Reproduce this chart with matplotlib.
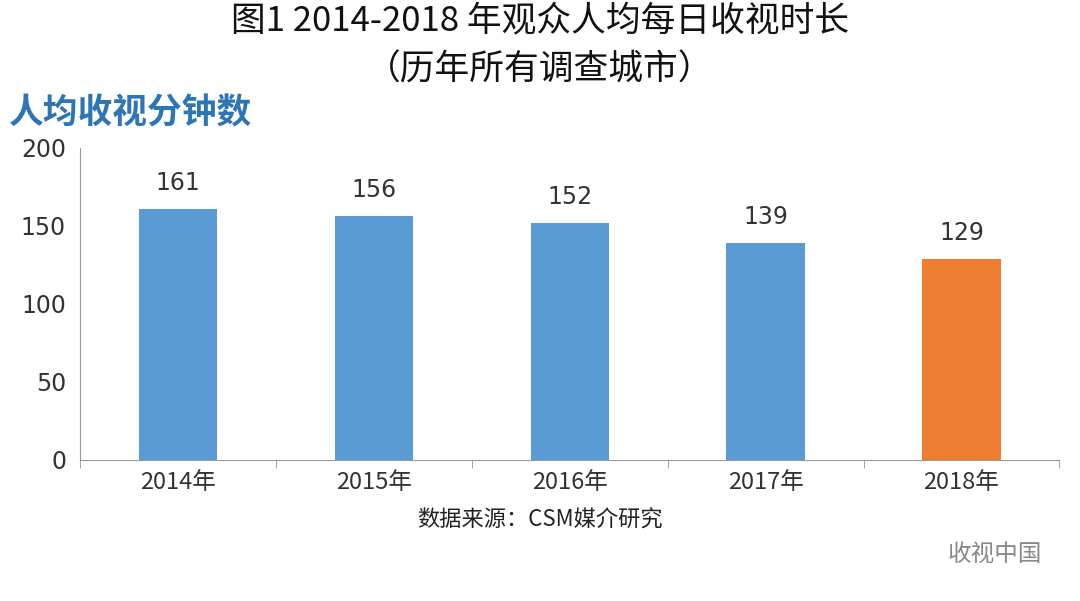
import matplotlib
matplotlib.use("Agg")
import matplotlib.pyplot as plt

plt.rcParams['font.family'] = ['Noto Sans CJK SC', 'DejaVu Sans']

years = ["2014年", "2015年", "2016年", "2017年", "2018年"]
minutes = [161, 156, 152, 139, 129]
colors = ["#5B9BD5", "#5B9BD5", "#5B9BD5", "#5B9BD5", "#ED7D31"]

fig = plt.figure(figsize=(10.8, 6.01), dpi=100)
ax = fig.add_axes([0.074, 0.235, 0.907, 0.519])
x = range(len(years))
ax.bar(x, minutes, width=0.4, color=colors)
for i, v in zip(x, minutes):
    ax.text(i, v + 9, str(v), ha='center', va='bottom', fontsize=17, color='#333333', family='DejaVu Sans')
ax.set_xlim(-0.5, len(years) - 0.5)
ax.set_ylim(0, 200)
ax.set_yticks([0, 50, 100, 150, 200])
ax.set_xticks(list(x))
ax.set_xticklabels(years)
ax.set_xticks([i + 0.5 for i in range(-1, len(years))], minor=True)
ax.tick_params(axis='x', which='major', length=0, labelsize=17, pad=8, labelcolor='#333333')
ax.tick_params(axis='x', which='minor', length=6, color='#999999')
ax.tick_params(axis='y', length=0, labelsize=17, labelcolor='#333333', pad=10)
for lbl in ax.get_yticklabels():
    lbl.set_family('DejaVu Sans')
for s in ['top', 'right']:
    ax.spines[s].set_visible(False)
ax.spines['left'].set_color('#999999')
ax.spines['bottom'].set_color('#999999')

fig.text(0.5, 0.963, "图1 2014-2018 年观众人均每日收视时长", ha='center', va='center', fontsize=25, color='#111111')
fig.text(0.5, 0.883, "（历年所有调查城市）", ha='center', va='center', fontsize=25, color='#111111')
fig.text(0.007, 0.812, "人均收视分钟数", ha='left', va='center', fontsize=25, fontweight='bold', color='#2E75B6')
fig.text(0.5, 0.135, "数据来源：CSM媒介研究", ha='center', va='center', fontsize=16, color='#222222')
fig.text(0.965, 0.078, "收视中国", ha='right', va='center', fontsize=17, color='#888888')

fig.savefig("out.png", dpi=100, facecolor='white')
